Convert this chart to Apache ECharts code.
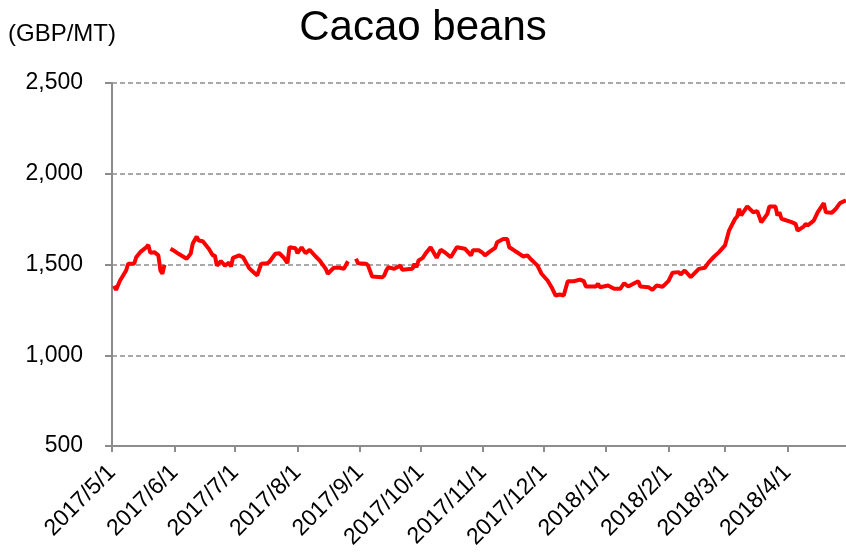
<!DOCTYPE html>
<html>
<head>
<meta charset="utf-8">
<script src="https://cdn.jsdelivr.net/npm/echarts@6/dist/echarts.min.js"></script>
<style>
  html, body { margin: 0; padding: 0; background: #fff; }
  #chart { width: 846px; height: 552px; }
</style>
</head>
<body>
<div id="chart"></div>
<script>
// Cacao bean price, GBP per metric ton (null = market holiday)
const dates = [
  '2017-05-02','2017-05-03','2017-05-05','2017-05-08','2017-05-09','2017-05-12','2017-05-13','2017-05-15',
  '2017-05-18','2017-05-19','2017-05-20','2017-05-22','2017-05-24','2017-05-25','2017-05-26','2017-05-27',
  '2017-05-29','2017-05-30','2017-06-01','2017-06-03','2017-06-07','2017-06-09','2017-06-10','2017-06-12',
  '2017-06-13','2017-06-15','2017-06-18','2017-06-20','2017-06-21','2017-06-22','2017-06-24','2017-06-26',
  '2017-06-28','2017-06-29','2017-06-30','2017-07-03','2017-07-05','2017-07-08','2017-07-11','2017-07-12',
  '2017-07-14','2017-07-17','2017-07-18','2017-07-21','2017-07-23','2017-07-25','2017-07-27','2017-07-28',
  '2017-07-31','2017-08-01','2017-08-03','2017-08-05','2017-08-07','2017-08-10','2017-08-12','2017-08-15',
  '2017-08-16','2017-08-19','2017-08-22','2017-08-24','2017-08-26','2017-08-28','2017-08-30','2017-08-31',
  '2017-09-04','2017-09-05','2017-09-07','2017-09-12','2017-09-13','2017-09-14','2017-09-15','2017-09-18',
  '2017-09-21','2017-09-22','2017-09-27','2017-09-28','2017-09-29','2017-09-30','2017-10-02','2017-10-04',
  '2017-10-06','2017-10-09','2017-10-11','2017-10-13','2017-10-16','2017-10-19','2017-10-23','2017-10-26',
  '2017-10-27','2017-10-30','2017-11-01','2017-11-02','2017-11-04','2017-11-07','2017-11-08','2017-11-11',
  '2017-11-13','2017-11-14','2017-11-16','2017-11-19','2017-11-21','2017-11-23','2017-11-25','2017-11-28',
  '2017-11-30','2017-12-03','2017-12-05','2017-12-07','2017-12-09','2017-12-11','2017-12-13','2017-12-16',
  '2017-12-19','2017-12-21','2017-12-22','2017-12-27','2017-12-28','2017-12-29','2018-01-02','2018-01-05',
  '2018-01-08','2018-01-10','2018-01-12','2018-01-15','2018-01-17','2018-01-18','2018-01-22','2018-01-24',
  '2018-01-26','2018-01-29','2018-02-01','2018-02-03','2018-02-06','2018-02-07','2018-02-09','2018-02-12',
  '2018-02-16','2018-02-19','2018-02-21','2018-02-23','2018-02-26','2018-03-01','2018-03-03','2018-03-06',
  '2018-03-07','2018-03-08','2018-03-09','2018-03-12','2018-03-15','2018-03-17','2018-03-19','2018-03-22',
  '2018-03-23','2018-03-26','2018-03-27','2018-03-28','2018-03-29','2018-04-03','2018-04-05','2018-04-06',
  '2018-04-09','2018-04-10','2018-04-11','2018-04-14','2018-04-16','2018-04-19','2018-04-20','2018-04-23',
  '2018-04-25','2018-04-27','2018-04-30'
];
const prices = [
  1382,1360,1412,1467,1504,1504,1540,1568,
  1595,1608,1564,1568,1550,1467,1449,1498,
  null,1587,1574,1559,1532,1559,1614,1654,
  1632,1628,1587,1550,1550,1494,1518,1494,
  1510,1489,1537,1550,1540,1480,1449,1440,
  1504,1507,1514,1559,1562,1540,1507,1595,
  1590,1562,1595,1562,1581,1544,1522,1476,
  1449,1482,1482,1476,1518,null,1532,1507,
  1504,1494,1434,1430,1440,1467,1485,1476,
  1494,1471,1476,1504,1485,1522,1535,1568,
  1595,1537,1581,1568,1540,1595,1587,1550,
  1578,1578,1562,1550,1568,1592,1623,1641,
  1641,1595,1581,1559,1544,1550,1526,1494,
  1449,1412,1375,1329,1335,1329,1408,1408,
  1417,1408,1379,1379,1394,1375,1384,1366,
  1366,1397,1379,1397,1408,1379,1375,1360,
  1384,1377,1410,1455,1458,1445,1467,1430,
  1476,1482,1513,1537,1568,1605,1687,1752,
  1764,1807,1770,1820,1788,1794,1733,1779,
  1820,1820,1770,1788,1752,1733,1724,1687,
  1709,1724,1715,1742,1788,1838,1788,1785,
  1807,1838,1853
];
// Month-start dates shown on the horizontal axis
const monthTicks = [
  '2017-05-01','2017-06-01','2017-07-01','2017-08-01','2017-09-01','2017-10-01',
  '2017-11-01','2017-12-01','2018-01-01','2018-02-01','2018-03-01','2018-04-01'
];
const axisStart = '2017-05-01';
const axisEnd = '2018-04-30';

function ts(s) {
  const [y, m, d] = s.split('-').map(Number);
  return new Date(y, m - 1, d).getTime();
}
function fmtDate(v) {
  const d = new Date(v);
  return d.getFullYear() + '/' + (d.getMonth() + 1) + '/' + d.getDate();
}

const FONT = '"Liberation Sans", Arial, sans-serif';
const GRAY = '#8c8c8c';
const tickTs = monthTicks.map(ts);
const seriesData = dates.map((d, i) => [ts(d), prices[i] == null ? '-' : prices[i]]);

const chart = echarts.init(document.getElementById('chart'), null, { renderer: 'canvas' });
chart.setOption({
  animation: false,
  backgroundColor: '#fff',
  title: {
    text: 'Cacao beans',
    left: 'center',
    top: 2,
    textStyle: { fontFamily: FONT, fontSize: 42, fontWeight: 'normal', color: '#000' }
  },
  graphic: [{
    type: 'text',
    left: 8,
    top: 22,
    style: { text: '(GBP/MT)', fontFamily: FONT, fontSize: 24, fill: '#000' }
  }],
  grid: { left: 112, right: 0, top: 83, bottom: 106, containLabel: false },
  xAxis: {
    // timestamps on a linear axis, ticked at each month start
    type: 'value',
    min: ts(axisStart),
    max: ts(axisEnd),
    axisLine: { show: true, lineStyle: { color: GRAY, width: 2 } },
    axisTick: { show: true, customValues: tickTs, length: 6, lineStyle: { color: GRAY, width: 2 } },
    axisLabel: {
      customValues: tickTs,
      rotate: 45,
      margin: 23,
      formatter: fmtDate,
      fontFamily: FONT,
      fontSize: 23,
      color: '#000',
      hideOverlap: false,
      showMinLabel: true,
      showMaxLabel: true
    },
    splitLine: { show: false }
  },
  yAxis: {
    type: 'value',
    min: 500,
    max: 2500,
    interval: 500,
    axisLine: { show: true, lineStyle: { color: GRAY, width: 2 } },
    axisTick: { show: true, length: 7, lineStyle: { color: GRAY, width: 2 } },
    axisLabel: {
      margin: 29,
      fontFamily: FONT,
      fontSize: 23,
      color: '#000',
      formatter: v => v.toLocaleString('en-US')
    },
    splitLine: { show: true, lineStyle: { color: GRAY, width: 1.5, type: [5, 3] } }
  },
  series: [{
    type: 'line',
    data: seriesData,
    showSymbol: false,
    connectNulls: false,
    lineStyle: { color: '#ff0000', width: 4 },
    itemStyle: { color: '#ff0000' }
  }]
});
</script>
</body>
</html>
